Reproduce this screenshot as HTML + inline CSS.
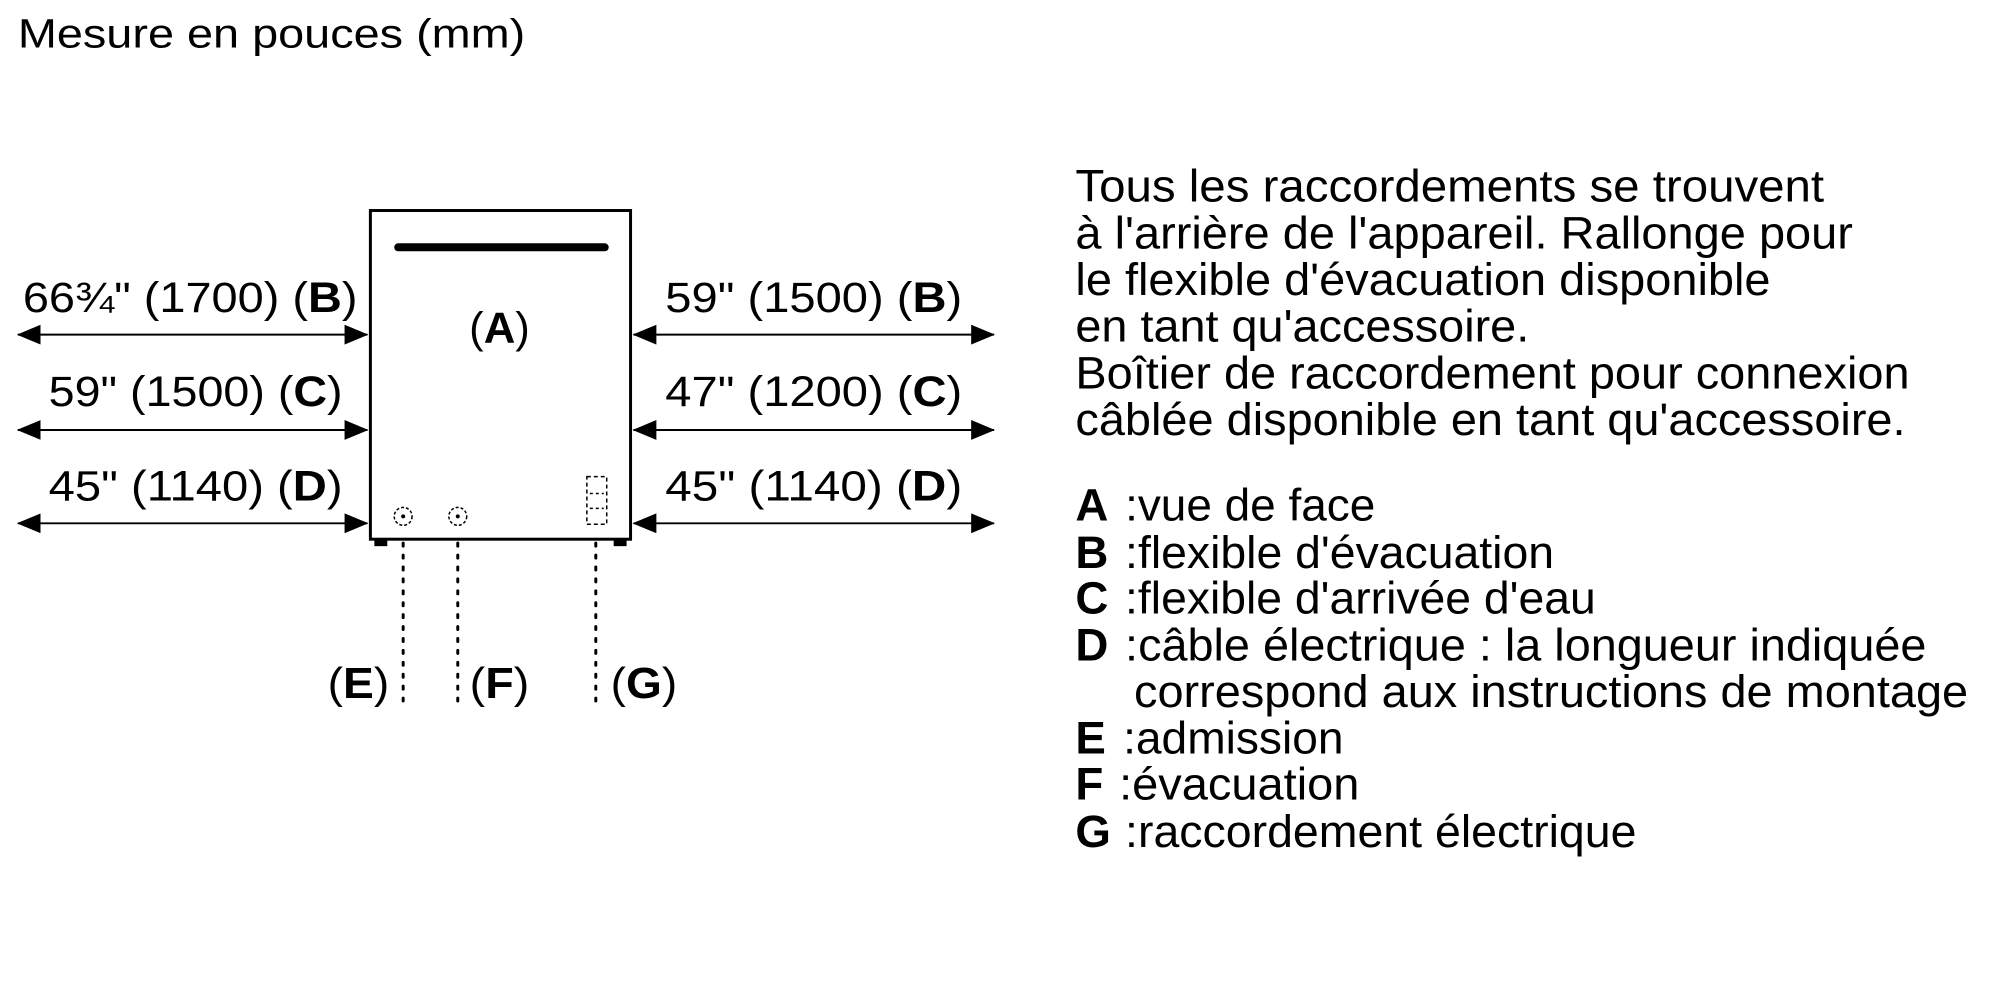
<!DOCTYPE html>
<html><head><meta charset="utf-8"><style>
html,body{margin:0;padding:0;background:#fff;}
svg{display:block;}
text{font-family:"Liberation Sans",Arial,sans-serif;fill:#000;}
</style></head><body>
<svg width="2000" height="1000" viewBox="0 0 2000 1000" xmlns="http://www.w3.org/2000/svg">
<defs>
<marker id="ah" markerWidth="24" markerHeight="20" refX="23" refY="10" orient="auto-start-reverse" markerUnits="userSpaceOnUse">
<path d="M0,0 L24,10 L0,20 Z" fill="#000"/>
</marker>
</defs>
<g transform="scale(0.993)">
<text x="18" y="48" font-size="41" textLength="511" lengthAdjust="spacingAndGlyphs">Mesure en pouces (mm)</text>

<rect x="373" y="212" width="262" height="331" fill="none" stroke="#000" stroke-width="3"/>
<line x1="401" y1="249" x2="609" y2="249" stroke="#000" stroke-width="8" stroke-linecap="round"/>
<text x="503" y="345" font-size="44" text-anchor="middle">(<tspan font-weight="bold">A</tspan>)</text>
<rect x="377" y="543" width="13" height="7" fill="#000"/>
<rect x="618" y="543" width="13" height="7" fill="#000"/>
<circle cx="406" cy="520" r="9" fill="none" stroke="#000" stroke-width="1.5" stroke-dasharray="3,2"/>
<circle cx="406" cy="520" r="2" fill="#000"/>
<circle cx="461" cy="520" r="9" fill="none" stroke="#000" stroke-width="1.5" stroke-dasharray="3,2"/>
<circle cx="461" cy="520" r="2" fill="#000"/>
<rect x="591" y="480" width="20" height="48" fill="none" stroke="#000" stroke-width="1.5" stroke-dasharray="4,3"/>
<line x1="594" y1="497" x2="608" y2="497" stroke="#000" stroke-width="1.5" stroke-dasharray="3,3"/>
<line x1="594" y1="512" x2="608" y2="512" stroke="#000" stroke-width="1.5" stroke-dasharray="3,3"/>

<g stroke="#000" stroke-width="3" stroke-dasharray="3,9" stroke-linecap="round">
<line x1="406" y1="547" x2="406" y2="713"/>
<line x1="461" y1="547" x2="461" y2="713"/>
<line x1="600" y1="547" x2="600" y2="713"/>
</g>
<text x="330" y="703" font-size="44" textLength="62" lengthAdjust="spacingAndGlyphs">(<tspan font-weight="bold">E</tspan>)</text>
<text x="473" y="703" font-size="44" textLength="60" lengthAdjust="spacingAndGlyphs">(<tspan font-weight="bold">F</tspan>)</text>
<text x="615" y="703" font-size="44" textLength="67" lengthAdjust="spacingAndGlyphs">(<tspan font-weight="bold">G</tspan>)</text>

<g stroke="#000" stroke-width="2" marker-start="url(#ah)" marker-end="url(#ah)">
<line x1="18" y1="337" x2="370" y2="337"/>
<line x1="18" y1="433" x2="370" y2="433"/>
<line x1="18" y1="527" x2="370" y2="527"/>
<line x1="638" y1="337" x2="1001" y2="337"/>
<line x1="638" y1="433" x2="1001" y2="433"/>
<line x1="638" y1="527" x2="1001" y2="527"/>
</g>
<g font-size="43">
<text x="23" y="314" textLength="337" lengthAdjust="spacingAndGlyphs">66¾" (1700) (<tspan font-weight="bold">B</tspan>)</text>
<text x="49" y="409" textLength="296" lengthAdjust="spacingAndGlyphs">59" (1500) (<tspan font-weight="bold">C</tspan>)</text>
<text x="49" y="504" textLength="296" lengthAdjust="spacingAndGlyphs">45" (1140) (<tspan font-weight="bold">D</tspan>)</text>
<text x="670" y="314" textLength="299" lengthAdjust="spacingAndGlyphs">59" (1500) (<tspan font-weight="bold">B</tspan>)</text>
<text x="670" y="409" textLength="299" lengthAdjust="spacingAndGlyphs">47" (1200) (<tspan font-weight="bold">C</tspan>)</text>
<text x="670" y="504" textLength="299" lengthAdjust="spacingAndGlyphs">45" (1140) (<tspan font-weight="bold">D</tspan>)</text>
</g>

<g font-size="46">
<text x="1083" y="203" textLength="754" lengthAdjust="spacingAndGlyphs">Tous les raccordements se trouvent</text>
<text x="1083" y="250" textLength="783" lengthAdjust="spacingAndGlyphs">à l'arrière de l'appareil. Rallonge pour</text>
<text x="1083" y="297" textLength="700" lengthAdjust="spacingAndGlyphs">le flexible d'évacuation disponible</text>
<text x="1083" y="344" textLength="457" lengthAdjust="spacingAndGlyphs">en tant qu'accessoire.</text>
<text x="1083" y="391" textLength="840" lengthAdjust="spacingAndGlyphs">Boîtier de raccordement pour connexion</text>
<text x="1083" y="438" textLength="836" lengthAdjust="spacingAndGlyphs">câblée disponible en tant qu'accessoire.</text>

<text x="1083" y="524" font-weight="bold">A</text>
<text x="1083" y="572" font-weight="bold">B</text>
<text x="1083" y="618" font-weight="bold">C</text>
<text x="1083" y="665" font-weight="bold">D</text>
<text x="1083" y="759" font-weight="bold">E</text>
<text x="1083" y="805" font-weight="bold">F</text>
<text x="1083" y="853" font-weight="bold">G</text>

<text x="1133" y="524" textLength="252" lengthAdjust="spacingAndGlyphs">:vue de face</text>
<text x="1133" y="572" textLength="432" lengthAdjust="spacingAndGlyphs">:flexible d'évacuation</text>
<text x="1133" y="618" textLength="474" lengthAdjust="spacingAndGlyphs">:flexible d'arrivée d'eau</text>
<text x="1133" y="665" textLength="807" lengthAdjust="spacingAndGlyphs">:câble électrique : la longueur indiquée</text>
<text x="1142" y="712" textLength="840" lengthAdjust="spacingAndGlyphs">correspond aux instructions de montage</text>
<text x="1131" y="759" textLength="222" lengthAdjust="spacingAndGlyphs">:admission</text>
<text x="1127" y="805" textLength="242" lengthAdjust="spacingAndGlyphs">:évacuation</text>
<text x="1133" y="853" textLength="515" lengthAdjust="spacingAndGlyphs">:raccordement électrique</text>
</g>
</g>
</svg>
</body></html>
